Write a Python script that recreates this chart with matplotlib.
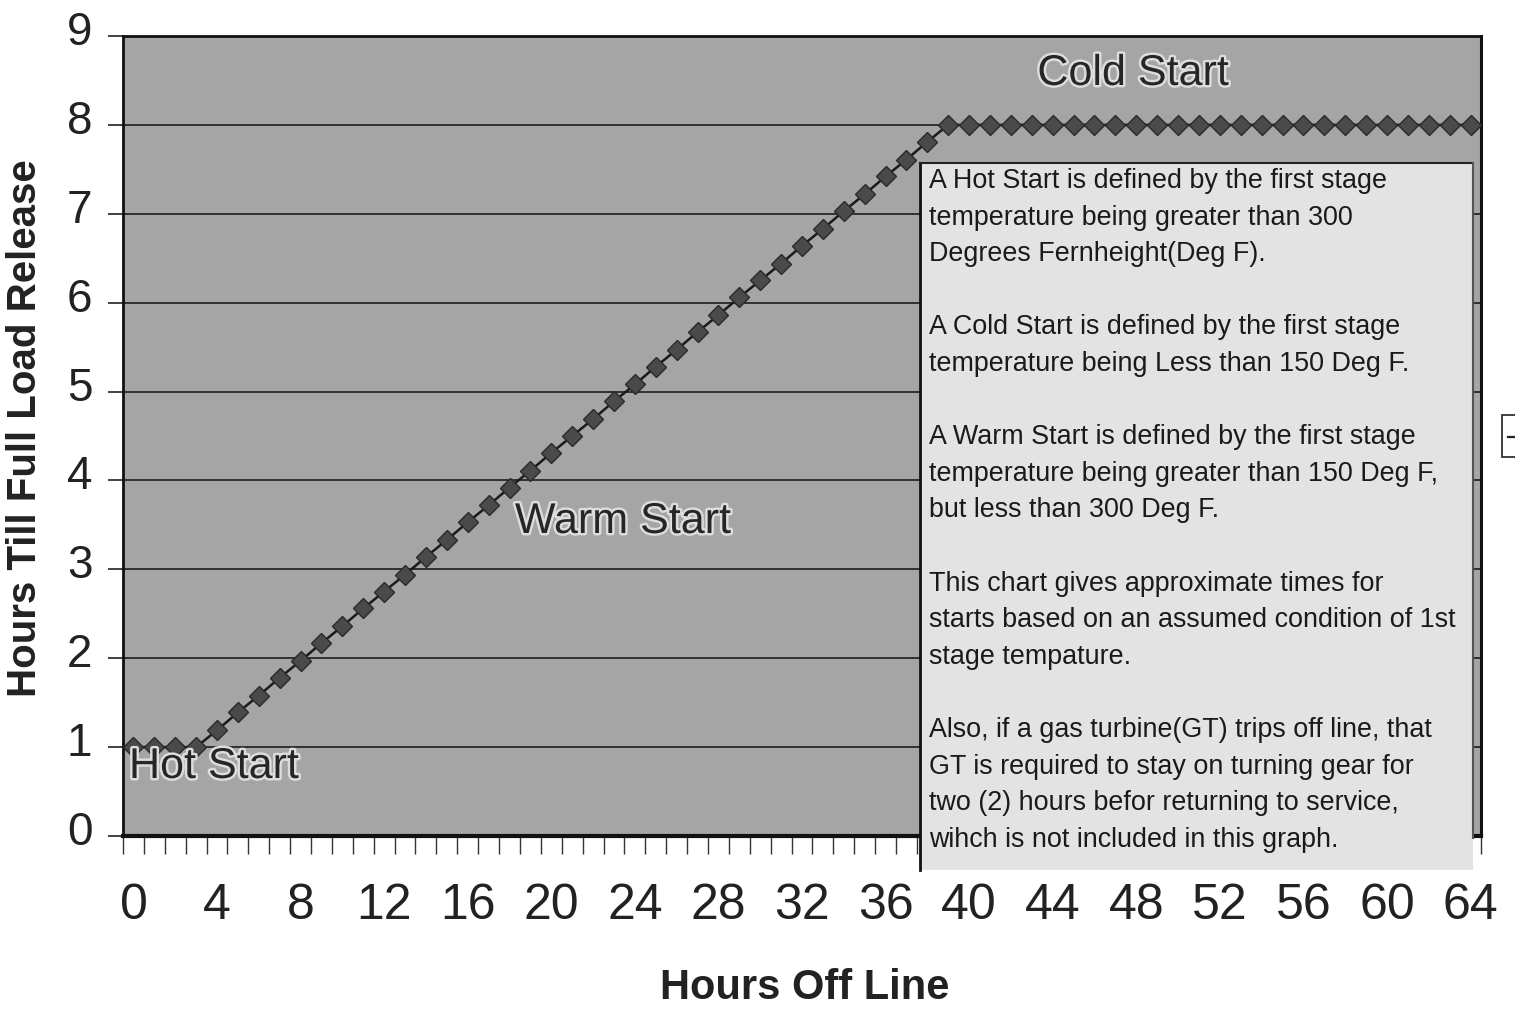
import matplotlib
matplotlib.use("Agg")
import matplotlib.pyplot as plt
from matplotlib import font_manager
from matplotlib.patches import Rectangle
from matplotlib.lines import Line2D
from matplotlib.transforms import ScaledTranslation
import matplotlib.patheffects as pe

# ---------------- data ----------------
hours = list(range(0, 65))
hours_till_release = [
    1.00, 1.00, 1.00, 1.00,
    1.19, 1.39, 1.58, 1.78, 1.97, 2.17, 2.36, 2.56, 2.75, 2.94,
    3.14, 3.33, 3.53, 3.72, 3.92, 4.11, 4.31, 4.50, 4.69, 4.89,
    5.08, 5.28, 5.47, 5.67, 5.86, 6.06, 6.25, 6.44, 6.64, 6.83,
    7.03, 7.22, 7.42, 7.61, 7.81,
    8.00, 8.00, 8.00, 8.00, 8.00, 8.00, 8.00, 8.00, 8.00, 8.00,
    8.00, 8.00, 8.00, 8.00, 8.00, 8.00, 8.00, 8.00, 8.00, 8.00,
    8.00, 8.00, 8.00, 8.00, 8.00, 8.00,
]
x_tick_labels = ["0", "4", "8", "12", "16", "20", "24", "28", "32", "36",
                 "40", "44", "48", "52", "56", "60", "64"]
y_ticks = [0, 1, 2, 3, 4, 5, 6, 7, 8, 9]
region_labels = ["Hot Start", "Warm Start", "Cold Start"]
note_lines = [
    "A Hot Start is defined by the first stage",
    "temperature being greater than 300",
    "Degrees Fernheight(Deg F).",
    "",
    "A Cold Start is defined by the first stage",
    "temperature being Less than 150 Deg F.",
    "",
    "A Warm Start is defined by the first stage",
    "temperature being greater than 150 Deg F,",
    "but less than 300 Deg F.",
    "",
    "This chart gives approximate times for",
    "starts based on an assumed condition of 1st",
    "stage tempature.",
    "",
    "Also, if a gas turbine(GT) trips off line, that",
    "GT is required to stay on turning gear for",
    "two (2) hours befor returning to service,",
    "wihch is not included in this graph.",
]

# ---------------- fonts ----------------
available = {f.name for f in font_manager.fontManager.ttflist}
HAS_NARROW = "Liberation Sans Narrow" in available
plt.rcParams["font.family"] = ["Liberation Sans", "DejaVu Sans"]
narrow = ["Liberation Sans Narrow", "Liberation Sans", "DejaVu Sans"] if HAS_NARROW else ["Liberation Sans", "DejaVu Sans"]
region_size = 37 if HAS_NARROW else 31
note_size = 19.4

W, H = 1515, 1010
fig = plt.figure(figsize=(W / 100, H / 100), dpi=100)
fig.patch.set_facecolor("white")

ax_l, ax_r, ax_t, ax_b = 123, 1481, 36, 836
ax = fig.add_axes([ax_l / W, 1 - ax_b / H, (ax_r - ax_l) / W, (ax_b - ax_t) / H])
ax.set_facecolor("#a5a5a5")

ax.plot(hours, hours_till_release, color="#1a1a1a", lw=1.8, marker="D",
        ms=10.5, mfc="#4a4a4a", mec="#2a2a2a", mew=1.0, zorder=3)

ax.set_xlim(-0.5, 64.5)
ax.set_ylim(0, 9)

# y axis
ax.set_yticks(y_ticks)
ax.set_yticklabels([str(v) for v in y_ticks])
ax.yaxis.grid(True, color="#111111", lw=1.1)
ax.set_axisbelow(True)
ax.tick_params(axis="y", direction="out", length=11, width=1.2, pad=11,
               labelsize=33, colors="#222222")
up = ScaledTranslation(0, 8 / 100, fig.dpi_scale_trans)
for lbl in ax.get_yticklabels():
    lbl.set_transform(lbl.get_transform() + up)

# x axis: labels every 4 categories, minor ticks between categories
ax.set_xticks(list(range(0, 65, 4)))
ax.set_xticklabels(x_tick_labels)
ax.set_xticks([h - 0.5 for h in hours] + [64.5], minor=True)
ax.tick_params(axis="x", which="major", length=0, pad=34, labelsize=36,
               colors="#222222")
ax.tick_params(axis="x", which="minor", direction="out", length=13,
               width=1.0, color="#333333")

for side, lw in [("left", 2.0), ("top", 2.0), ("right", 2.2), ("bottom", 3.0)]:
    ax.spines[side].set_linewidth(lw)
    ax.spines[side].set_color("#111111")

ax.set_xlabel("Hours Off Line", fontsize=30, fontweight="bold", color="#222222")
ax.xaxis.set_label_coords((805 - ax_l) / (ax_r - ax_l), (ax_b - 988) / (ax_b - ax_t))
ax.xaxis.label.set_va("center")
ax.set_ylabel("Hours Till Full Load Release", fontsize=29, fontweight="bold",
              color="#222222")
ax.yaxis.set_label_coords((25 - ax_l) / (ax_r - ax_l), (ax_b - 428) / (ax_b - ax_t))
ax.yaxis.label.set_va("center")

# region labels
halo = [pe.withStroke(linewidth=3.5, foreground="#dddddd")]
def to_axes(px, py):
    return (px - ax_l) / (ax_r - ax_l), (ax_b - py) / (ax_b - ax_t)

for lab, (px, py), ha in zip(region_labels,
                             [(129, 767), (623, 522), (1133, 74)],
                             ["left", "center", "center"]):
    xx, yy = to_axes(px, py)
    ax.text(xx, yy, lab, transform=ax.transAxes, ha=ha, va="center",
            fontsize=region_size, family=narrow, color="#262626",
            path_effects=halo, zorder=4)

# note box
bx0, by0 = to_axes(920, 870)
bx1, by1 = to_axes(1473, 163)
ax.add_patch(Rectangle((bx0, by0), bx1 - bx0, by1 - by0, transform=ax.transAxes,
                       facecolor="#e3e3e3", edgecolor="none", clip_on=False, zorder=6))
ax.add_line(Line2D([bx0, bx0], [by0, by1], transform=ax.transAxes, color="#111111",
                   lw=2.0, clip_on=False, zorder=7))
ax.add_line(Line2D([bx0, bx1], [by1, by1], transform=ax.transAxes, color="#222222",
                   lw=1.5, clip_on=False, zorder=7))
ax.add_line(Line2D([bx1, bx1], [by0 + 0.04, by1], transform=ax.transAxes, color="#555555",
                   lw=1.5, clip_on=False, zorder=7))

for i, line in enumerate(note_lines):
    if not line:
        continue
    ypx = 181 + i * 36.6
    xx, yy = to_axes(929, ypx)
    ax.text(xx, yy, line, transform=ax.transAxes, ha="left", va="center",
            fontsize=note_size, color="#1a1a1a", zorder=8, clip_on=False)

# legend fragment cut off at right edge
fig.patches.append(Rectangle((1502 / W, 1 - 457 / H), 30 / W, 42 / H,
                             transform=fig.transFigure, facecolor="white",
                             edgecolor="#333333", lw=1.3))
fig.lines.append(Line2D([1508 / W, 1515 / W], [1 - 437 / H, 1 - 437 / H],
                        transform=fig.transFigure, color="#222222", lw=1.6))

fig.savefig("out.png", dpi=100, facecolor="white")
